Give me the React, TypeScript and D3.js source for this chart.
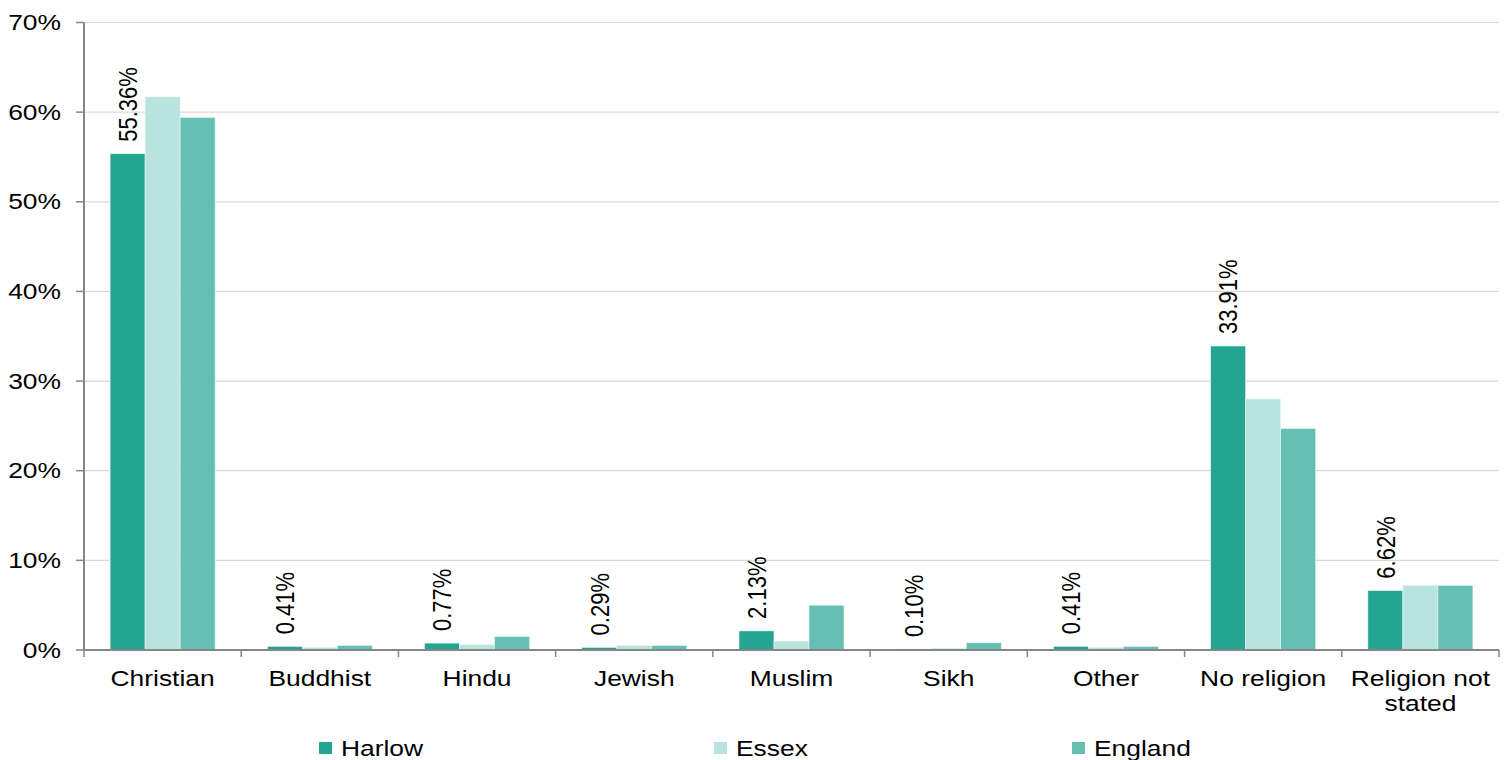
import React from "react";
import * as d3 from "d3";

const categories = ["Christian", "Buddhist", "Hindu", "Jewish", "Muslim", "Sikh", "Other", "No religion", "Religion not stated"];
const seriesNames = ["Harlow", "Essex", "England"];
const harlow = [55.36, 0.41, 0.77, 0.29, 2.13, 0.1, 0.41, 33.91, 6.62];
const essex = [61.7, 0.3, 0.6, 0.5, 1.0, 0.2, 0.3, 28.0, 7.2];
const england = [59.4, 0.5, 1.5, 0.5, 5.0, 0.8, 0.4, 24.7, 7.2];
const yTicks = [0, 10, 20, 30, 40, 50, 60, 70];

const W = 1507;
const H = 760;
const FONT = "'Liberation Sans', Arial, sans-serif";
const FS = 22;
const SX = 1.2;
const colors = ["#23a591", "#b9e3de", "#65bfb2"];

const left = 84;
const right = 1499;
const top = 22.5;
const bottom = 650;

function measure(text: string): number {
  const c = document.createElement("canvas").getContext("2d");
  if (!c) return text.length * 12 * SX;
  c.font = `${FS}px ${FONT}`;
  return c.measureText(text).width * SX;
}

function wrap(text: string, maxW: number): string[] {
  const words = text.split(" ");
  const lines: string[] = [];
  let cur = "";
  for (const w of words) {
    const test = cur ? cur + " " + w : w;
    if (measure(test) > maxW && cur) {
      lines.push(cur);
      cur = w;
    } else cur = test;
  }
  if (cur) lines.push(cur);
  return lines;
}

export default function App() {
  const values = [harlow, essex, england];
  const x0 = d3.scaleBand<string>().domain(categories).range([left, right]).paddingInner(0.332).paddingOuter(0.166);
  const x1 = d3.scaleBand<string>().domain(seriesNames).range([0, x0.bandwidth()]);
  const y = d3.scaleLinear().domain([0, 70]).range([bottom, top]);
  const step = x0.step();
  const boundaries = d3.range(categories.length + 1).map((i) => left + i * step);
  const fmt = d3.format(".2f");
  const legendX = [319, 714, 1072];

  return (
    <svg width={W} height={H} style={{ position: "absolute", left: 0, top: 0, background: "#fff" }} fontFamily={FONT}>
      {/* gridlines */}
      {yTicks.filter((t) => t > 0).map((t) => (
        <line key={"g" + t} x1={left} x2={right} y1={y(t)} y2={y(t)} stroke="#d9d9d9" strokeWidth={1.2} />
      ))}
      {/* bars */}
      {categories.map((c, ci) => (
        <g key={c}>
          {seriesNames.map((s, si) => {
            const v = values[si][ci];
            return (
              <rect
                key={s}
                x={(x0(c) as number) + (x1(s) as number)}
                y={y(v)}
                width={x1.bandwidth()}
                height={bottom - y(v)}
                fill={colors[si]}
                stroke="#e8f5f3"
                strokeWidth={0.6}
              />
            );
          })}
        </g>
      ))}
      {/* axes */}
      <line x1={left} x2={left} y1={top} y2={bottom} stroke="#868686" strokeWidth={2} />
      <line x1={left} x2={right} y1={bottom} y2={bottom} stroke="#868686" strokeWidth={2} />
      {yTicks.map((t) => (
        <g key={"yt" + t}>
          <line x1={76} x2={left} y1={y(t)} y2={y(t)} stroke="#868686" strokeWidth={1.5} />
          <text transform={`translate(61,${y(t)}) scale(${SX},1)`} textAnchor="end" dy="0.35em" fontSize={FS} fill="#000">
            {t + "%"}
          </text>
        </g>
      ))}
      {boundaries.map((bx, i) => (
        <line key={"xt" + i} x1={bx} x2={bx} y1={bottom} y2={657} stroke="#868686" strokeWidth={1.5} />
      ))}
      {/* category labels */}
      {categories.map((c) => {
        const cx = (x0(c) as number) + x0.bandwidth() / 2;
        const lines = wrap(c, step - 10);
        return (
          <text key={"cl" + c} transform={`translate(${cx},686) scale(${SX},1)`} textAnchor="middle" fontSize={FS} fill="#000">
            {lines.map((l, li) => (
              <tspan key={li} x={0} dy={li === 0 ? 0 : 25}>
                {l}
              </tspan>
            ))}
          </text>
        );
      })}
      {/* data labels for Harlow */}
      {categories.map((c, ci) => {
        const v = harlow[ci];
        const cx = (x0(c) as number) + (x1("Harlow") as number) + x1.bandwidth() / 2;
        return (
          <text
            key={"dl" + c}
            transform={`translate(${cx},${y(v) - 12}) scale(${SX},1) rotate(-90)`}
            dy="0.35em"
            fontSize={FS}
            fill="#000"
          >
            {fmt(v) + "%"}
          </text>
        );
      })}
      {/* legend */}
      {seriesNames.map((s, si) => (
        <g key={"lg" + s}>
          <rect x={legendX[si]} y={742} width={13} height={12} fill={colors[si]} />
          <text transform={`translate(${legendX[si] + 22},756) scale(${SX},1)`} fontSize={FS} fill="#000">
            {s}
          </text>
        </g>
      ))}
    </svg>
  );
}
